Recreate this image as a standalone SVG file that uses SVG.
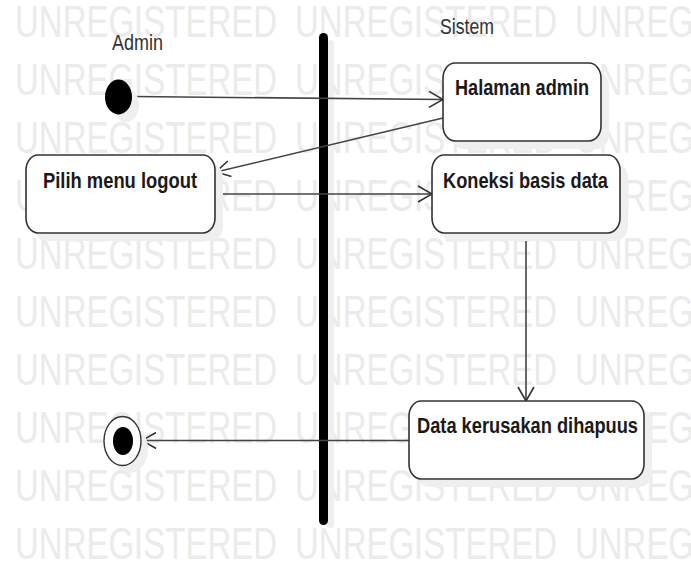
<svg xmlns="http://www.w3.org/2000/svg" xmlns:xlink="http://www.w3.org/1999/xlink" width="691" height="562" viewBox="0 0 691 562">
  <style>
    .wm { font-family: "Liberation Sans", Arial, sans-serif; font-size: 44px; fill: #ebebeb; }
    .lane { font-family: "Liberation Sans", Arial, sans-serif; font-size: 22px; fill: #333; }
    .act { fill: #fff; stroke: #333; stroke-width: 1.6; }
    .shadow { fill: #efefef; }
    .label { font-family: "Liberation Sans", Arial, sans-serif; font-size: 22px; font-weight: bold; fill: #1a1a1a; }
    .flow { fill: none; stroke: #444; stroke-width: 1.6; marker-end: url(#open-arrow); }
  </style>
  <defs>
    <marker id="open-arrow" markerUnits="userSpaceOnUse" viewBox="0 0 16 18" refX="15" refY="9" markerWidth="16" markerHeight="18" orient="auto">
      <path d="M1,1 L15,9 L1,17" fill="none" stroke="#333" stroke-width="1.6"/>
    </marker>
    <g id="wm-row">
      <text class="wm" x="15" textLength="262" lengthAdjust="spacingAndGlyphs">UNREGISTERED</text>
      <text class="wm" x="295" textLength="262" lengthAdjust="spacingAndGlyphs">UNREGISTERED</text>
      <text class="wm" x="575" textLength="119" lengthAdjust="spacingAndGlyphs">UNREG</text>
    </g>
  </defs>

  <rect width="691" height="562" fill="#fff"/>

  <!-- watermark rows -->
  <g id="watermark">
    <use xlink:href="#wm-row" y="37"/>
    <use xlink:href="#wm-row" y="95"/>
    <use xlink:href="#wm-row" y="153"/>
    <use xlink:href="#wm-row" y="211"/>
    <use xlink:href="#wm-row" y="269"/>
    <use xlink:href="#wm-row" y="327"/>
    <use xlink:href="#wm-row" y="385"/>
    <use xlink:href="#wm-row" y="443"/>
    <use xlink:href="#wm-row" y="501"/>
    <use xlink:href="#wm-row" y="559"/>
  </g>

  <!-- swimlane headers and separator -->
  <g id="swimlanes">
    <text class="lane" x="112" y="50" textLength="51" lengthAdjust="spacingAndGlyphs">Admin</text>
    <text class="lane" x="440" y="34" textLength="54" lengthAdjust="spacingAndGlyphs">Sistem</text>
    <rect x="327" y="40" width="7" height="488" rx="3.5" class="shadow"/>
    <rect x="319" y="33" width="9" height="492" rx="4.5" fill="#000"/>
  </g>

  <!-- connectors -->
  <g id="connectors">
    <path class="flow" d="M133,96.5 L443,99.5"/>
    <path class="flow" d="M443,118 L216,172"/>
    <path class="flow" d="M215,194 L432,194"/>
    <path class="flow" d="M526,233 L526,401"/>
    <path class="flow" d="M409,440.5 L142,440.5"/>
  </g>

  <g id="start">
    <ellipse cx="126" cy="105" rx="13" ry="17" class="shadow"/>
    <ellipse cx="118.5" cy="97" rx="13.5" ry="17.5" fill="#000"/>
  </g>

  <g id="halaman-admin">
    <rect x="451" y="71" width="158" height="78" rx="12" ry="15" class="shadow"/>
    <rect x="443" y="63" width="158" height="78" rx="12" ry="15" class="act"/>
    <text class="label" x="455" y="95" textLength="134" lengthAdjust="spacingAndGlyphs">Halaman admin</text>
  </g>

  <g id="pilih-menu-logout">
    <rect x="34" y="163" width="189" height="78" rx="12" ry="15" class="shadow"/>
    <rect x="26" y="155" width="189" height="78" rx="12" ry="15" class="act"/>
    <text class="label" x="43" y="188" textLength="154" lengthAdjust="spacingAndGlyphs">Pilih menu logout</text>
  </g>

  <g id="koneksi-basis-data">
    <rect x="440" y="163" width="188" height="78" rx="12" ry="15" class="shadow"/>
    <rect x="432" y="155" width="188" height="78" rx="12" ry="15" class="act"/>
    <text class="label" x="443" y="188" textLength="165" lengthAdjust="spacingAndGlyphs">Koneksi basis data</text>
  </g>

  <g id="data-kerusakan-dihapuus">
    <rect x="417" y="409" width="235" height="78" rx="12" ry="15" class="shadow"/>
    <rect x="409" y="401" width="235" height="78" rx="12" ry="15" class="act"/>
    <text class="label" x="417" y="433" textLength="221" lengthAdjust="spacingAndGlyphs">Data kerusakan dihapuus</text>
  </g>

  <g id="end">
    <ellipse cx="130" cy="449" rx="18" ry="24" class="shadow"/>
    <ellipse cx="122.5" cy="441" rx="18.5" ry="24.5" fill="#fff" stroke="#333" stroke-width="1.4"/>
    <ellipse cx="123" cy="441" rx="10" ry="14" fill="#000"/>
  </g>
</svg>
